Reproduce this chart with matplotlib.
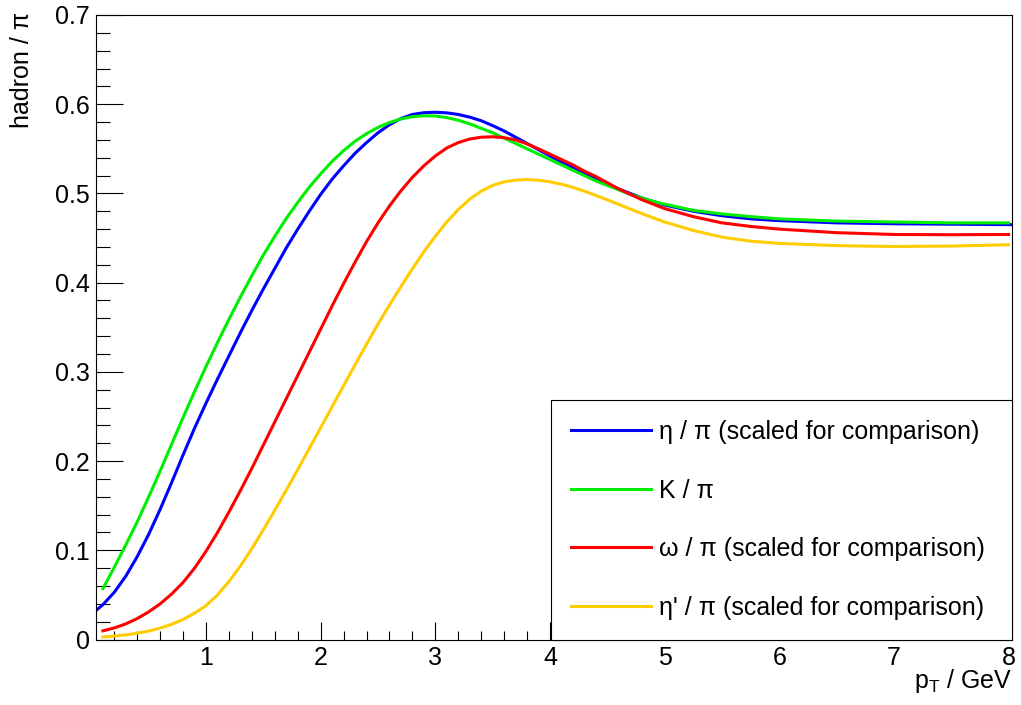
import matplotlib
matplotlib.use('Agg')
import matplotlib.pyplot as plt
from matplotlib.ticker import MultipleLocator, FormatStrFormatter

plt.rcParams['font.family'] = ['Liberation Sans', 'DejaVu Sans']
plt.rcParams['mathtext.fontset'] = 'custom'
plt.rcParams['mathtext.rm'] = 'Liberation Sans'
plt.rcParams['mathtext.it'] = 'Liberation Sans:italic'

# pT grid (GeV)
pt = [0.1, 0.2, 0.3, 0.4, 0.5, 0.6, 0.7, 0.8, 0.9, 1.0,
      1.1, 1.2, 1.3, 1.4, 1.5, 1.6, 1.7, 1.8, 1.9, 2.0,
      2.1, 2.2, 2.3, 2.4, 2.5, 2.6, 2.7, 2.8, 2.9, 3.0,
      3.1, 3.2, 3.3, 3.4, 3.5, 3.6, 3.7, 3.8, 3.9, 4.0,
      4.1, 4.2, 4.3, 4.4, 4.5, 4.6, 4.7, 4.8, 4.9, 5.0,
      5.25, 5.5, 5.75, 6.0, 6.5, 7.0, 7.5, 8.0]
pt_eta = [0.04] + pt[:-1] + [8.03]

eta_pi = [0.0325,
          0.039, 0.053, 0.071, 0.093, 0.118, 0.146, 0.176, 0.207, 0.237, 0.265,
          0.292, 0.318, 0.344, 0.369, 0.393, 0.416, 0.439, 0.460, 0.480, 0.499,
          0.516, 0.531, 0.545, 0.557, 0.568, 0.577, 0.584, 0.5885, 0.5905, 0.591,
          0.5903, 0.5885, 0.5855, 0.5815, 0.576, 0.570, 0.563, 0.556, 0.549, 0.542,
          0.5355, 0.529, 0.5225, 0.516, 0.510, 0.505, 0.500, 0.495, 0.491, 0.487,
          0.480, 0.475, 0.4715, 0.4695, 0.467, 0.466, 0.4655, 0.465]
k_pi = [0.057, 0.081, 0.106, 0.132, 0.160, 0.189, 0.219, 0.249, 0.278, 0.306,
        0.333, 0.359, 0.384, 0.408, 0.431, 0.452, 0.472, 0.490, 0.507, 0.522,
        0.536, 0.548, 0.5585, 0.567, 0.574, 0.5795, 0.5835, 0.586, 0.587, 0.5868,
        0.585, 0.582, 0.578, 0.573, 0.568, 0.562, 0.556, 0.550, 0.544, 0.538,
        0.532, 0.526, 0.520, 0.514, 0.509, 0.504, 0.499, 0.495, 0.491, 0.488,
        0.481, 0.477, 0.474, 0.4715, 0.469, 0.468, 0.467, 0.467]
omega_pi = [0.0097, 0.0130, 0.0175, 0.0235, 0.031, 0.040, 0.051, 0.064, 0.080, 0.099,
            0.120, 0.143, 0.167, 0.192, 0.218, 0.244, 0.270, 0.296, 0.322, 0.348,
            0.374, 0.399, 0.423, 0.446, 0.467, 0.486, 0.503, 0.518, 0.531, 0.542,
            0.551, 0.557, 0.561, 0.563, 0.5635, 0.5625, 0.560, 0.5555, 0.550, 0.544,
            0.538, 0.532, 0.525, 0.519, 0.512, 0.505, 0.499, 0.493, 0.488, 0.483,
            0.474, 0.467, 0.463, 0.460, 0.456, 0.454, 0.4537, 0.454]
etap_pi = [0.0028, 0.0038, 0.0052, 0.0070, 0.0095, 0.0128, 0.0170, 0.0225, 0.0295, 0.038,
           0.050, 0.065, 0.0825, 0.102, 0.123, 0.145, 0.1675, 0.1905, 0.214, 0.2375,
           0.261, 0.2845, 0.308, 0.331, 0.3535, 0.375, 0.3955, 0.4155, 0.4345, 0.452,
           0.468, 0.482, 0.4935, 0.5025, 0.509, 0.513, 0.515, 0.5155, 0.5148, 0.513,
           0.5103, 0.5068, 0.5025, 0.4978, 0.4928, 0.4877, 0.4825, 0.4775, 0.4727, 0.468,
           0.4585, 0.451, 0.4465, 0.444, 0.4415, 0.4405, 0.441, 0.4425]

labels = ['η / π (scaled for comparison)', 'K / π',
          'ω / π (scaled for comparison)', "η' / π (scaled for comparison)"]
colors = ['#0000ff', '#00ee00', '#ff0000', '#ffcc00']

fig = plt.figure(figsize=(10.21, 7.05), dpi=100)
ax = fig.add_axes([96 / 1021, 65.5 / 705, 916 / 1021, 624.5 / 705])

lw = 2.2
ax.plot(pt_eta, eta_pi, color=colors[0], lw=lw, label=labels[0])
ax.plot(pt, k_pi, color=colors[1], lw=lw, label=labels[1])
ax.plot(pt, omega_pi, color=colors[2], lw=lw, label=labels[2])
ax.plot(pt, etap_pi, color=colors[3], lw=lw, label=labels[3])

ax.set_xlim(0.04, 8.03)
ax.set_ylim(0, 0.7)

# ROOT-ish axes: ticks inside, only left/bottom
ax.xaxis.set_major_locator(MultipleLocator(1))
ax.xaxis.set_minor_locator(MultipleLocator(0.2))
ax.yaxis.set_major_locator(MultipleLocator(0.1))
ax.yaxis.set_minor_locator(MultipleLocator(0.02))
ax.yaxis.set_major_formatter(FormatStrFormatter('%g'))
ax.tick_params(axis='both', which='both', direction='in', top=False, right=False,
               width=0.8, labelsize=18, pad=4.5)
ax.tick_params(axis='y', which='major', length=19.5)
ax.tick_params(axis='y', which='minor', length=10)
ax.tick_params(axis='x', which='major', length=13)
ax.tick_params(axis='x', which='minor', length=6.5)
for s in ax.spines.values():
    s.set_linewidth(0.8)

fig.text(22 / 1021, 1 - 12 / 705, 'hadron / π', rotation=90, ha='center', va='top', fontsize=18)
fig.text(1012 / 1021, 1 - 688 / 705, r'p$_{\mathrm{T}}$ / GeV', ha='right', va='baseline', fontsize=18)

leg = ax.legend(loc='lower left', bbox_to_anchor=(455 / 916, 0, 461 / 916, 0.3), mode='expand',
                fontsize=18, frameon=True, fancybox=False, framealpha=1, edgecolor='black',
                borderaxespad=0, borderpad=0.8, labelspacing=1.38, handlelength=3.2,
                handletextpad=0.32)
leg.get_frame().set_linewidth(0.8)

fig.savefig('out.png', dpi=100)
